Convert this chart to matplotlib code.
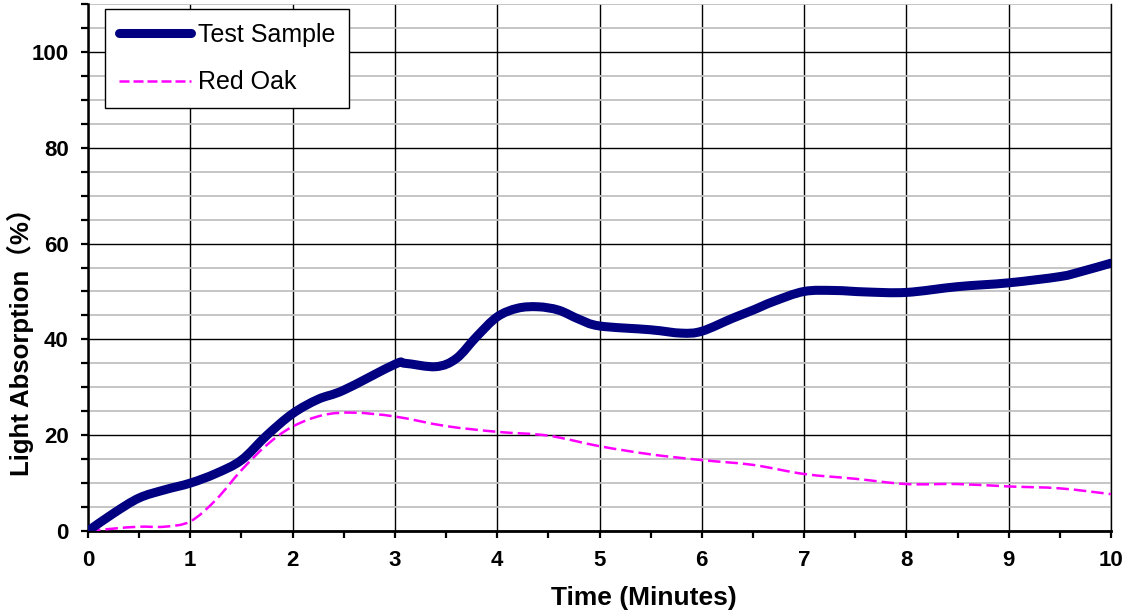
import matplotlib
matplotlib.use("Agg")
import matplotlib.pyplot as plt
from matplotlib.path import Path
from matplotlib.patches import PathPatch
from matplotlib.lines import Line2D
from matplotlib.ticker import MultipleLocator

plt.rcParams['font.family'] = ['Liberation Sans', 'Noto Sans CJK SC', 'DejaVu Sans']

# ---- data ----
test_x = [0, 0.25, 0.5, 0.75, 1, 1.25, 1.5, 1.75, 2, 2.25, 2.5, 3, 3.1, 3.4, 3.6, 3.8,
          4, 4.2, 4.4, 4.6, 4.8, 5, 5.5, 5.8, 6, 6.3, 6.5, 6.7, 7, 7.3, 7.6, 8,
          8.5, 9, 9.5, 9.7, 10]
test_y = [0, 3.7, 6.9, 8.6, 10, 12, 14.8, 20, 24.5, 27.5, 29.4, 34.8, 35, 34.3, 36, 40.6,
          44.7, 46.5, 46.8, 46.1, 44.2, 42.8, 42, 41.3, 41.7, 44.4, 46.1, 47.9, 50, 50.2, 49.9, 49.8,
          51, 51.8, 53.1, 54.1, 55.9]
oak_x = [0, 0.25, 0.5, 0.75, 1, 1.25, 1.5, 1.75, 2, 2.3, 2.6, 3, 3.5, 4, 4.5, 5, 5.5,
         6, 6.5, 7, 7.5, 8, 8.5, 9, 9.5, 10]
oak_y = [0, 0.5, 0.9, 0.9, 2, 6.5, 12.7, 18, 21.8, 24.2, 24.7, 23.9, 21.9, 20.7, 19.9, 17.7, 16,
         14.8, 13.8, 11.9, 10.9, 9.8, 9.8, 9.3, 8.9, 7.7]
series_labels = ["Test Sample", "Red Oak"]
x_ticks = list(range(0, 11))
y_ticks = [0, 20, 40, 60, 80, 100]
x_title = "Time (Minutes)"
y_title = "Light Absorption（%）"


def smooth_path(xs, ys):
    """Smoothed line through the data points (like a spreadsheet 'smoothed line')."""
    pts = list(zip(xs, ys))
    n = len(pts)
    verts = [pts[0]]
    codes = [Path.MOVETO]
    for i in range(n - 1):
        p0 = pts[i - 1] if i > 0 else pts[i]
        p1 = pts[i]
        p2 = pts[i + 1]
        p3 = pts[i + 2] if i + 2 < n else pts[i + 1]
        c1 = (p1[0] + (p2[0] - p0[0]) / 6, p1[1] + (p2[1] - p0[1]) / 6)
        c2 = (p2[0] - (p3[0] - p1[0]) / 6, p2[1] - (p3[1] - p1[1]) / 6)
        verts += [c1, c2, p2]
        codes += [Path.CURVE4] * 3
    return Path(verts, codes)


fig = plt.figure(figsize=(11.25, 6.13), dpi=100)
ax = fig.add_axes([88 / 1125, 1 - 531 / 613, (1111 - 88) / 1125, (531 - 4) / 613])

navy = "#000080"
magenta = "#FF00FF"
oak_dash = (0, (5, 2))

ax.add_patch(PathPatch(smooth_path(oak_x, oak_y), fill=False, edgecolor=magenta,
                       linewidth=1.8, linestyle=oak_dash, zorder=4))
ax.add_patch(PathPatch(smooth_path(test_x, test_y), fill=False, edgecolor=navy,
                       linewidth=6.5, capstyle='round', joinstyle='round', zorder=5))

ax.set_xlim(0, 10)
ax.set_ylim(0, 110)
ax.set_xticks(x_ticks)
ax.set_yticks(y_ticks)
ax.xaxis.set_minor_locator(MultipleLocator(0.5))
ax.yaxis.set_minor_locator(MultipleLocator(5))

ax.grid(which='minor', axis='y', color='#C0C0C0', linewidth=1.3, zorder=0)
ax.grid(which='major', axis='both', color='black', linewidth=1.0, zorder=1)
ax.set_axisbelow(True)

ax.spines['top'].set_visible(False)
ax.spines['right'].set_linewidth(1.0)
ax.spines['left'].set_linewidth(1.8)
ax.spines['bottom'].set_linewidth(2.0)

ax.tick_params(which='both', direction='out', length=5, width=1.6, color='black')
ax.tick_params(axis='y', which='major', pad=9, labelsize=16)
ax.tick_params(axis='x', which='major', pad=9, labelsize=16)
for lab in ax.get_xticklabels() + ax.get_yticklabels():
    lab.set_fontweight('bold')

fig.text(644 / 1125, 1 - 598 / 613, x_title, fontsize=19, fontweight='bold',
         ha='center', va='center')
fig.text(20 / 1125, 1 - 336 / 613, y_title, fontsize=18.5, fontweight='bold',
         ha='center', va='center', rotation=90)

handles = [Line2D([], [], color=navy, linewidth=6.5, solid_capstyle='round'),
           Line2D([], [], color=magenta, linewidth=1.8, linestyle=(0, (4, 1.6)))]
leg = fig.legend(handles, series_labels, loc='upper left',
                 bbox_to_anchor=(105 / 1125, 1 - 9 / 613), fontsize=18,
                 frameon=True, fancybox=False, framealpha=1, edgecolor='black',
                 handlelength=2.9, handletextpad=0.25, labelspacing=0.94, borderpad=0.55,
                 borderaxespad=0)
leg.get_frame().set_linewidth(1.0)

fig.savefig("out.png", dpi=100)
